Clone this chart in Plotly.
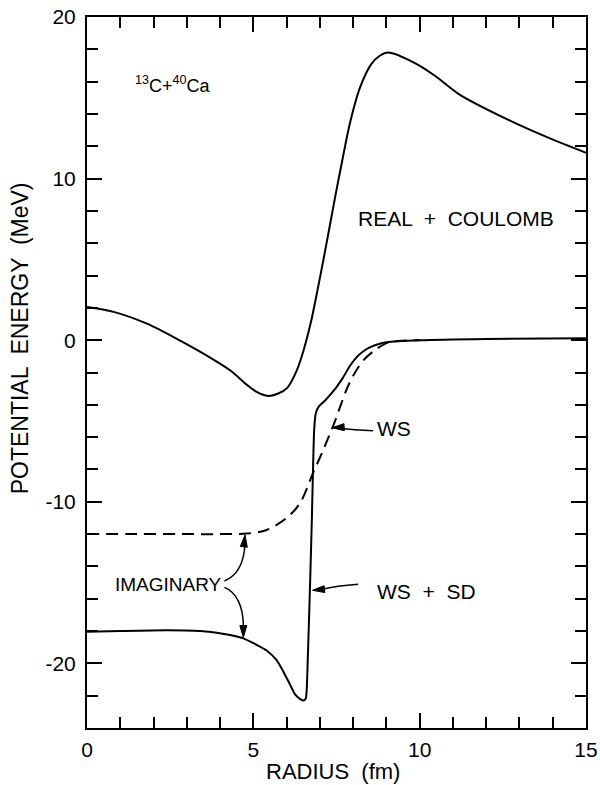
import math
import plotly.graph_objects as go

# Radius (fm) and potential energy (MeV) for 13C + 40Ca
real_r = [0.0, 0.8, 1.8, 2.8, 3.8, 4.32, 4.8, 5.1, 5.44, 5.75, 6.02, 6.3, 6.5, 6.74,
          6.9, 7.1, 7.3, 7.5, 7.7, 7.9, 8.2, 8.55, 8.8, 9.05, 9.9, 10.5, 11.2, 12.7, 13.9, 15.0]
real_v = [2.05, 1.75, 1.02, -0.03, -1.2, -1.89, -2.75, -3.2, -3.45, -3.3, -2.95, -1.9, -0.7, 1.2,
          2.8, 4.9, 7.1, 9.3, 11.4, 13.4, 15.6, 17.1, 17.6, 17.8, 17.1, 16.3, 15.2, 13.6, 12.5, 11.6]

ws_r = [0.0, 1.5, 2.8, 4.0, 4.8, 5.4, 6.0, 6.4, 6.8, 7.1, 7.4, 7.9, 8.3, 8.7, 9.05, 9.5, 10.0]
ws_v = [-12.0, -12.0, -12.0, -12.0, -11.97, -11.75, -11.0, -10.1, -8.2, -6.8, -5.3, -2.6,
        -1.27, -0.55, -0.15, -0.03, 0.0]

wssd_r = [0.0, 1.0, 2.4, 3.4, 3.9, 4.3, 4.7, 5.05, 5.4, 5.7, 5.9, 6.1, 6.25, 6.4, 6.5, 6.57,
          6.6, 6.64, 6.7, 6.76, 6.8, 6.83, 6.88, 6.97, 7.15, 7.3, 7.5, 7.7, 7.9, 8.1, 8.3, 8.5,
          8.75, 9.0, 10.0, 12.0, 15.0]
wssd_v = [-18.05, -18.0, -17.95, -18.0, -18.1, -18.25, -18.45, -18.8, -19.2, -19.8, -20.5, -21.3,
          -21.9, -22.2, -22.3, -22.2, -21.8, -19.5, -15.5, -11.0, -7.5, -5.5, -4.5, -4.1, -3.75,
          -3.4, -2.9, -2.3, -1.6, -1.06, -0.7, -0.45, -0.25, -0.13, 0.0, 0.08, 0.12]

x_ticks = [0, 5, 10, 15]
x_labels = ["0", "5", "10", "15"]
y_ticks = [-20, -10, 0, 10, 20]
y_labels = ["-20", "-10", "0", "10", "20"]

FONT = "Liberation Sans"
INK = "black"

W, H = 600, 785
M = dict(l=87, r=14, t=17, b=57)
X_RANGE = [0, 15]
Y_RANGE = [-24, 20]
# pixels per data unit, used to size the arrowheads
PX_X = (W - M["l"] - M["r"]) / (X_RANGE[1] - X_RANGE[0])
PX_Y = (H - M["t"] - M["b"]) / (Y_RANGE[1] - Y_RANGE[0])


def arrowhead_path(tx, ty, dx, dy, length=12, width=7):
    """Filled triangle with its tip at (tx, ty), pointing along pixel direction (dx, dy)."""
    n = math.hypot(dx, dy)
    ux, uy = dx / n, dy / n
    px, py = -uy, ux
    bx, by = -ux * length, -uy * length
    pts = [(0, 0),
           (bx + px * width / 2, by + py * width / 2),
           (bx - px * width / 2, by - py * width / 2)]
    coords = [(tx + a / PX_X, ty - b / PX_Y) for a, b in pts]
    return "M " + " L ".join(f"{a:.4f},{b:.4f}" for a, b in coords) + " Z"


fig = go.Figure()
fig.add_trace(go.Scatter(x=real_r, y=real_v, mode="lines",
                         line=dict(color=INK, width=2, shape="spline", smoothing=0.9)))
fig.add_trace(go.Scatter(x=ws_r, y=ws_v, mode="lines",
                         line=dict(color=INK, width=2, dash="12px,7px", shape="spline", smoothing=0.9)))
fig.add_trace(go.Scatter(x=wssd_r, y=wssd_v, mode="lines",
                         line=dict(color=INK, width=2, shape="spline", smoothing=0.6)))

# curved leader lines for the labels
leaders = [
    "M 4.13,-14.9 C 4.5,-14.6 4.72,-13.8 4.75,-12.6",
    "M 4.13,-15.3 C 4.5,-15.6 4.70,-16.5 4.70,-17.7",
    "M 8.6,-5.6 Q 8.0,-5.55 7.6,-5.45",
    "M 8.15,-15.1 Q 7.5,-15.2 7.05,-15.42",
]
for p in leaders:
    fig.add_shape(type="path", path=p, xref="x", yref="y",
                  line=dict(color=INK, width=1.5))

# arrowheads at the ends of the leaders: tip position and pixel direction
heads = [(4.75, -12.05, 0.1, -1), (4.70, -18.4, 0, 1), (7.37, -5.42, -1, 0.05), (6.78, -15.48, -1, 0.1)]
for hx, hy, dx, dy in heads:
    fig.add_shape(type="path", path=arrowhead_path(hx, hy, dx, dy), xref="x", yref="y",
                  line=dict(color=INK, width=1), fillcolor=INK)

labels = [
    dict(x=11.08, y=7.5, text="REAL  +  COULOMB", xanchor="center", size=21),
    dict(x=8.65, y=-5.47, text="WS", xanchor="left", size=21),
    dict(x=8.65, y=-15.55, text="WS  +  SD", xanchor="left", size=21),
    dict(x=2.45, y=-15.09, text="IMAGINARY", xanchor="center", size=19),
    dict(x=2.58, y=15.8, text="<sup>13</sup>C+<sup>40</sup>Ca", xanchor="center", size=18),
]
for lb in labels:
    fig.add_annotation(x=lb["x"], y=lb["y"], text=lb["text"], showarrow=False,
                       xanchor=lb["xanchor"], yanchor="middle",
                       font=dict(family=FONT, size=lb["size"], color=INK))

# axis titles
fig.add_annotation(xref="paper", yref="paper", x=0.493, y=-0.0605, text="RADIUS  (fm)",
                   showarrow=False, xanchor="center", yanchor="middle",
                   font=dict(family=FONT, size=22, color=INK))
fig.add_annotation(xref="paper", yref="paper", x=-0.1336, y=0.5485, text="POTENTIAL  ENERGY  (MeV)",
                   showarrow=False, xanchor="center", yanchor="middle", textangle=-90,
                   font=dict(family=FONT, size=23, color=INK))

axis_common = dict(showline=True, linewidth=2, linecolor=INK, mirror="ticks",
                   ticks="inside", ticklen=15, tickwidth=1.5, tickcolor=INK,
                   showgrid=False, zeroline=False, automargin=False,
                   tickfont=dict(family=FONT, size=21, color=INK))

fig.update_xaxes(range=X_RANGE, tickmode="array", tickvals=x_ticks, ticktext=x_labels,
                 ticklabelstandoff=2,
                 minor=dict(ticks="inside", ticklen=11, tickwidth=1.5, tickcolor=INK, dtick=1, tick0=0),
                 **axis_common)
fig.update_yaxes(range=Y_RANGE, tickmode="array", tickvals=y_ticks, ticktext=y_labels,
                 ticklabelstandoff=5,
                 minor=dict(ticks="inside", ticklen=11, tickwidth=1.5, tickcolor=INK, dtick=2, tick0=0),
                 **axis_common)

fig.update_layout(width=W, height=H, autosize=False, showlegend=False,
                  margin=M, paper_bgcolor="white", plot_bgcolor="white")

fig.write_html("out.html")
